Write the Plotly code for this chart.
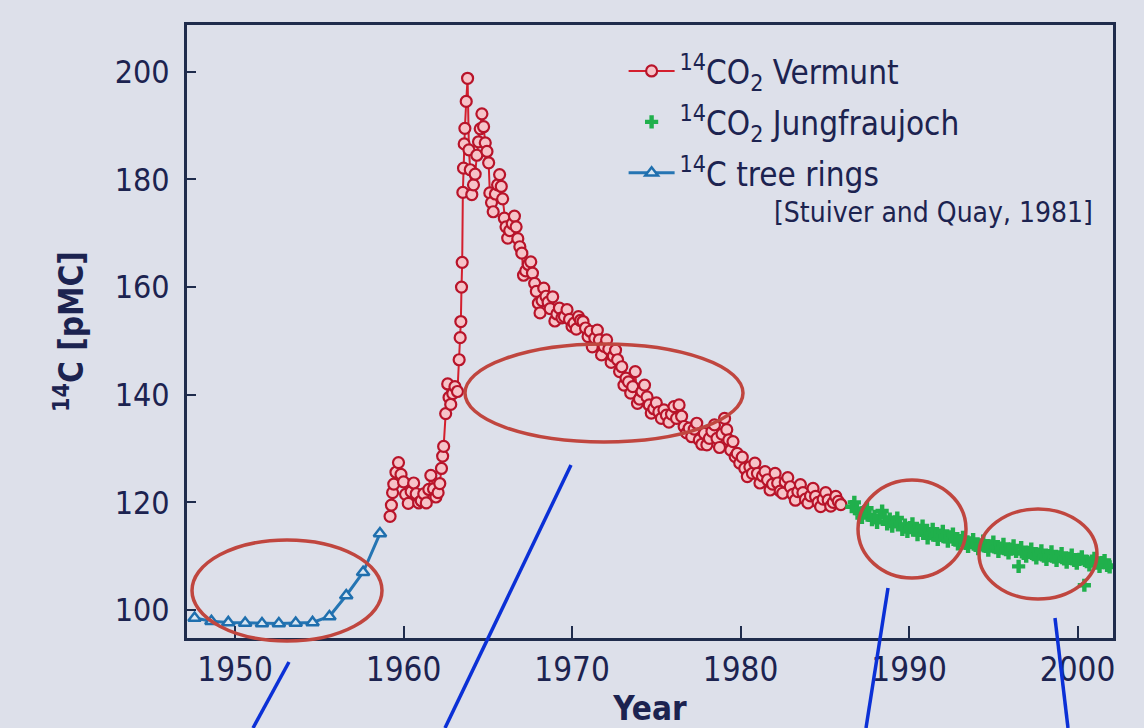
import plotly.graph_objects as go

# ---- 14C tree rings (Stuiver and Quay, 1981) ----
tree_year = [1947.6, 1948.6, 1949.6, 1950.6, 1951.6, 1952.6, 1953.6, 1954.6,
             1955.6, 1956.6, 1957.6, 1958.6]
tree_pmc = [98.5, 97.9, 97.7, 97.6, 97.5, 97.5, 97.6, 97.7, 98.8, 102.7, 107.0, 114.2]

# ---- 14CO2 Vermunt ----
vermunt_year = [
    1959.20, 1959.28, 1959.35, 1959.42, 1959.55, 1959.70, 1959.85, 1960.00,
    1960.12, 1960.28, 1960.45, 1960.60, 1960.75, 1960.90, 1961.05, 1961.20,
    1961.35, 1961.50, 1961.62, 1961.78, 1961.92, 1962.05, 1962.15, 1962.25,
    1962.32, 1962.38, 1962.50, 1962.62, 1962.70, 1962.80, 1962.92, 1963.05,
    1963.20, 1963.30, 1963.36, 1963.40, 1963.44, 1963.48, 1963.52, 1963.56,
    1963.60, 1963.64, 1963.72, 1963.80, 1963.88, 1963.96, 1964.05, 1964.15,
    1964.25, 1964.35, 1964.45, 1964.55, 1964.65, 1964.75, 1964.85, 1964.95,
    1965.05, 1965.12, 1965.22, 1965.32, 1965.45, 1965.58, 1965.70, 1965.80,
    1965.88, 1965.98, 1966.08, 1966.18, 1966.30, 1966.45, 1966.58, 1966.68,
    1966.78, 1966.90, 1967.02, 1967.12, 1967.25, 1967.40, 1967.55, 1967.65,
    1967.78, 1967.88, 1968.00, 1968.10, 1968.22, 1968.32, 1968.45, 1968.58,
    1968.70, 1968.85, 1968.98, 1969.10, 1969.25, 1969.40, 1969.55, 1969.70,
    1969.85, 1970.00, 1970.12, 1970.25, 1970.38, 1970.50, 1970.65, 1970.80,
    1970.95, 1971.08, 1971.20, 1971.35, 1971.50, 1971.62, 1971.75, 1971.90,
    1972.05, 1972.18, 1972.32, 1972.45, 1972.58, 1972.70, 1972.82, 1972.95,
    1973.08, 1973.20, 1973.35, 1973.48, 1973.60, 1973.75, 1973.88, 1974.00,
    1974.15, 1974.30, 1974.45, 1974.58, 1974.70, 1974.85, 1975.00, 1975.15,
    1975.30, 1975.45, 1975.60, 1975.75, 1975.90, 1976.05, 1976.20, 1976.35,
    1976.50, 1976.65, 1976.80, 1976.95, 1977.10, 1977.25, 1977.40, 1977.55,
    1977.70, 1977.85, 1978.00, 1978.15, 1978.30, 1978.45, 1978.60, 1978.75,
    1978.90, 1979.05, 1979.18, 1979.30, 1979.42, 1979.55, 1979.68, 1979.80,
    1979.95, 1980.10, 1980.25, 1980.40, 1980.55, 1980.70, 1980.85, 1981.00,
    1981.15, 1981.30, 1981.45, 1981.60, 1981.75, 1981.90, 1982.05, 1982.20,
    1982.35, 1982.50, 1982.65, 1982.80, 1982.95, 1983.10, 1983.25, 1983.40,
    1983.55, 1983.70, 1983.85, 1984.00, 1984.15, 1984.30, 1984.45, 1984.60,
    1984.75, 1984.90, 1985.05, 1985.20, 1985.35, 1985.50, 1985.65, 1985.80,
    1985.95,
]
vermunt_pmc = [
    117.4, 119.5, 121.8, 123.4, 125.6, 127.4, 125.2, 123.8,
    121.5, 119.8, 122.0, 123.6, 121.6, 119.9, 120.3, 121.6,
    119.9, 122.4, 125.0, 122.5, 121.0, 121.8, 123.5, 126.3,
    128.6, 130.4, 136.5, 142.0, 139.5, 138.2, 140.2, 141.5,
    140.6, 146.5, 150.6, 153.6, 160.0, 164.6, 177.6, 182.1,
    186.6, 189.5, 194.5, 198.8, 185.5, 181.8, 177.2, 179.0,
    181.0, 184.5, 187.0, 189.4, 192.2, 189.8, 186.8, 185.2,
    183.1, 177.5, 175.7, 174.0, 177.3, 179.0, 180.9, 178.7,
    176.4, 172.8, 171.2, 169.1, 170.5, 171.8, 173.2, 171.2,
    169.0, 167.5, 166.3, 162.2, 163.0, 164.2, 164.7, 162.6,
    160.7, 159.2, 157.0, 155.2, 157.5, 159.8, 158.3, 157.2,
    156.0, 158.2, 153.7, 155.0, 156.1, 154.3, 154.5, 155.8,
    154.0, 152.7, 153.3, 152.2, 154.5, 153.8, 153.6, 152.4,
    150.8, 151.8, 148.9, 150.5, 152.0, 150.2, 147.4, 149.0,
    150.2, 148.5, 146.0, 147.2, 148.3, 146.5, 144.3, 145.2,
    141.8, 143.1, 142.4, 140.3, 141.5, 144.3, 138.4, 139.2,
    140.6, 141.8, 139.6, 138.1, 136.6, 137.4, 138.5, 136.8,
    135.6, 137.2, 136.2, 134.9, 136.4, 137.8, 135.6, 138.1,
    136.0, 134.1, 132.9, 133.8, 132.2, 133.6, 134.7, 131.6,
    130.8, 132.8, 130.7, 131.9, 133.2, 134.4, 131.9, 130.2,
    132.7, 135.6, 133.5, 131.6, 129.7, 131.3, 128.5, 129.1,
    127.3, 128.4, 126.3, 124.8, 126.6, 125.4, 127.3, 125.4,
    123.6, 124.9, 125.7, 124.2, 122.3, 123.4, 125.4, 123.6,
    122.1, 121.7, 123.8, 124.6, 122.9, 121.5, 120.4, 122.0,
    123.3, 121.8, 120.6, 119.9, 121.2, 122.6, 121.1, 120.0,
    119.2, 120.6, 121.8, 120.4, 119.3, 120.0, 121.1, 120.2,
    119.6,
]

# ---- 14CO2 Jungfraujoch ----
jungfrau_year = [
    1986.60, 1986.75, 1986.90, 1987.05, 1987.20, 1987.35, 1987.50, 1987.65,
    1987.80, 1987.95, 1988.10, 1988.25, 1988.40, 1988.55, 1988.70, 1988.85,
    1989.00, 1989.15, 1989.30, 1989.45, 1989.60, 1989.75, 1989.90, 1990.05,
    1990.20, 1990.35, 1990.50, 1990.65, 1990.80, 1990.95, 1991.10, 1991.25,
    1991.40, 1991.55, 1991.70, 1991.85, 1992.00, 1992.15, 1992.30, 1992.45,
    1992.60, 1992.75, 1992.90, 1993.05, 1993.20, 1993.35, 1993.50, 1993.65,
    1993.80, 1993.95, 1994.10, 1994.25, 1994.40, 1994.55, 1994.70, 1994.85,
    1995.00, 1995.15, 1995.30, 1995.45, 1995.60, 1995.75, 1995.90, 1996.05,
    1996.20, 1996.35, 1996.50, 1996.65, 1996.80, 1996.95, 1997.10, 1997.25,
    1997.40, 1997.55, 1997.70, 1997.85, 1998.00, 1998.15, 1998.30, 1998.45,
    1998.60, 1998.75, 1998.90, 1999.05, 1999.20, 1999.35, 1999.50, 1999.65,
    1999.80, 1999.95, 2000.10, 2000.25, 2000.40, 2000.55, 2000.70, 2000.85,
    2001.00, 2001.15, 2001.30, 2001.45, 2001.60, 2001.75, 2001.90,
]
jungfrau_pmc = [
    119.2, 120.0, 118.8, 118.0, 117.2, 118.3, 118.9, 117.6,
    116.8, 117.4, 116.3, 117.5, 118.4, 117.2, 116.0, 116.9,
    115.6, 116.4, 117.1, 115.9, 115.0, 115.8, 114.6, 115.3,
    116.0, 114.9, 114.0, 114.8, 115.6, 114.4, 113.4, 114.2,
    115.0, 113.9, 113.1, 113.9, 114.6, 113.6, 112.8, 113.6,
    114.1, 113.0, 112.3, 112.9, 113.5, 112.4, 111.8, 112.5,
    113.1, 112.0, 111.4, 112.1, 112.8, 111.8, 111.1, 111.9,
    112.6, 111.6, 110.9, 111.5, 112.2, 111.2, 110.6, 111.3,
    111.9, 110.9, 108.1, 111.6, 110.5, 110.0, 110.7, 111.3,
    110.3, 109.7, 110.4, 111.0, 110.0, 109.4, 110.1, 110.8,
    109.8, 109.2, 109.9, 110.5, 109.5, 108.9, 109.6, 110.2,
    109.2, 108.7, 109.4, 109.9, 104.6, 109.0, 108.4, 109.1,
    109.6, 108.7, 108.1, 108.8, 109.2, 108.3, 108.0,
]

NAVY = "#1c2350"
FRAME = "#1f2c4c"
BG = "#dde0ea"
FONT = "DejaVu Sans Condensed, DejaVu Sans"

fig = go.Figure()

fig.add_trace(go.Scatter(
    x=vermunt_year, y=vermunt_pmc, mode="lines+markers",
    name="<sup>14</sup>CO<sub>2</sub> Vermunt", legendgroup="vermunt",
    line=dict(color="#d41f2e", width=2),
    marker=dict(symbol="circle", size=11, color="#f6c3c8",
                line=dict(color="#b8142a", width=2.2)),
))
fig.add_trace(go.Scatter(
    x=jungfrau_year, y=jungfrau_pmc, mode="markers",
    name="<sup>14</sup>CO<sub>2</sub> Jungfraujoch", legendgroup="jungfrau",
    marker=dict(symbol="cross", size=11, color="#20b04c",
                line=dict(width=0)),
))
fig.add_trace(go.Scatter(
    x=tree_year, y=tree_pmc, mode="lines+markers",
    name="<sup>14</sup>C tree rings", legendgroup="tree",
    line=dict(color="#2575b3", width=3),
    marker=dict(symbol="triangle-up", size=11, color="#d8e6f2",
                line=dict(color="#1f6fae", width=2.5)),
))

# plot-area geometry (pixels) used to place the overlay shapes in paper units
L, R, T, B = 187, 1113, 25, 638


def px(x):
    return (x - L) / (R - L)


def py(y):
    return (B - y) / (B - T)


ellipses = [
    (192, 540, 382, 641),
    (465, 344, 743, 442),
    (858, 480, 966, 578),
    (979, 509, 1097, 599),
]
pointers = [
    ((289, 662), (253, 728)),
    ((571, 465), (445, 728)),
    ((888, 588), (866, 728)),
    ((1055, 618), (1068, 728)),
]
shapes = []
for x0, y0, x1, y1 in ellipses:
    shapes.append(dict(type="circle", xref="paper", yref="paper",
                       x0=px(x0), x1=px(x1), y0=py(y1), y1=py(y0),
                       line=dict(color="#c0463f", width=3.5), layer="above"))
for (xa, ya), (xb, yb) in pointers:
    shapes.append(dict(type="line", xref="paper", yref="paper",
                       x0=px(xa), y0=py(ya), x1=px(xb), y1=py(yb),
                       line=dict(color="#0b30d6", width=3.5), layer="above"))

fig.update_layout(
    width=1144, height=728,
    margin=dict(l=L, r=1144 - R, t=T, b=728 - B),
    paper_bgcolor=BG, plot_bgcolor=BG,
    font=dict(family=FONT, color=NAVY, size=30),
    showlegend=True,
    legend=dict(x=0.4715, y=0.9706, xanchor="left", yanchor="top",
                bgcolor="rgba(0,0,0,0)", font=dict(size=33, color=NAVY, family=FONT),
                itemwidth=46, tracegroupgap=5),
    shapes=shapes,
    annotations=[dict(text="[Stuiver and Quay, 1981]", xref="paper", yref="paper",
                      x=0.981, y=0.694, xanchor="right", yanchor="middle",
                      showarrow=False, font=dict(size=28, color=NAVY, family=FONT))],
)

fig.update_xaxes(
    range=[1947.15, 2002.1], tickvals=[1950, 1960, 1970, 1980, 1990, 2000],
    ticks="inside", ticklen=12, tickwidth=2, tickcolor=FRAME,
    showline=True, linecolor=FRAME, linewidth=3, mirror=True,
    showgrid=False, zeroline=False, automargin=False,
    tickfont=dict(size=33, color=NAVY, family=FONT),
    title=dict(text="<b>Year</b>", font=dict(size=33, color=NAVY, family=FONT),
               standoff=15),
)
fig.update_yaxes(
    range=[94.8, 208.7], tickvals=[100, 120, 140, 160, 180, 200],
    ticks="inside", ticklen=9, tickwidth=2, tickcolor=FRAME,
    showline=True, linecolor=FRAME, linewidth=3, mirror=True,
    showgrid=False, zeroline=False, automargin=False,
    tickfont=dict(size=32, color=NAVY, family=FONT), ticklabelstandoff=8,
    title=dict(text="<b><sup>14</sup>C [pMC]</b>",
               font=dict(size=33, color=NAVY, family=FONT), standoff=22),
)

fig.write_html("out.html")
